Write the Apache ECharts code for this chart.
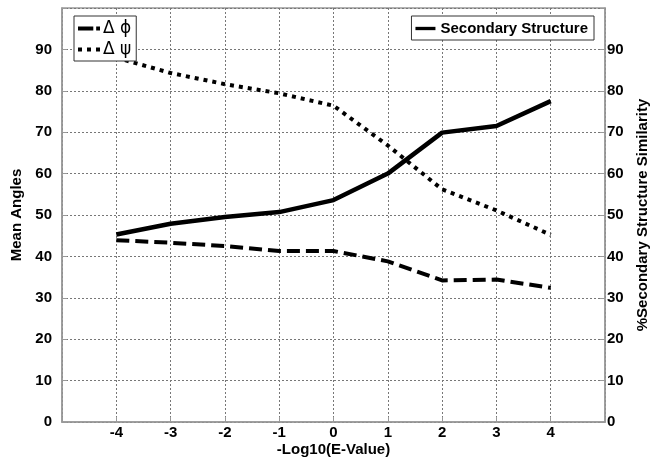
<!DOCTYPE html>
<html>
<head>
<meta charset="utf-8">
<script src="https://cdn.jsdelivr.net/npm/echarts@6/dist/echarts.min.js"></script>
<style>
html,body{margin:0;padding:0;background:#fff;}
#chart{width:661px;height:464px;}
</style>
</head>
<body>
<div id="chart"></div>
<script>
// -log10(E-value) positions
var xVals = [-4, -3, -2, -1, 0, 1, 2, 3, 4];
var dPhi = [43.9, 43.3, 42.5, 41.3, 41.3, 38.8, 34.2, 34.4, 32.4];
var dPsi = [88.0, 84.3, 81.6, 79.4, 76.4, 66.8, 56.2, 51.1, 45.2];
var secStruct = [45.3, 47.9, 49.5, 50.7, 53.6, 60.0, 69.9, 71.5, 77.5];

function pairs(ys){
	var out = [];
	for (var i = 0; i < xVals.length; i++) out.push([xVals[i], ys[i]]);
	return out;
}

var chart = echarts.init(document.getElementById('chart'));
var font = 'Liberation Sans, Arial, sans-serif';
var gridLine = {show: true, lineStyle: {color: '#777', type: [2, 2], width: 1}};
var axisLine = {show: true, onZero: false, lineStyle: {color: '#999', width: 1.5}};
var tick = {show: true, inside: true, length: 5, lineStyle: {color: '#999'}};

option = {
	backgroundColor: '#fff',
	animation: false,
	textStyle: {fontFamily: font, color: '#000'},
	grid: {left: 62, right: 56, top: 8, bottom: 42, outerBoundsMode: 'none', show: true, borderColor: '#999', borderWidth: 1.5},
	legend: [{
		left: 74,
		top: 16,
		orient: 'vertical',
		backgroundColor: '#fff',
		borderColor: '#333',
		borderWidth: 1,
		borderRadius: 0,
		padding: [4, 5, 3, 4],
		itemGap: 4,
		itemWidth: 22,
		itemHeight: 4,
		textStyle: {fontFamily: 'DejaVu Sans, sans-serif', fontSize: 17, color: '#000', padding: [0, 0, 0, -2]},
		data: [
			{name: 'Δ ϕ', icon: 'path://M0,0H16V4H0Z M19,0H23V4H19Z'},
			{name: 'Δ ψ', icon: 'path://M0,0H4V4H0Z M9,0H13V4H9Z M18,0H22V4H18Z'}
		]
	}, {
		right: 67,
		top: 16,
		backgroundColor: '#fff',
		borderColor: '#333',
		borderWidth: 1,
		borderRadius: 0,
		padding: [5, 6, 4, 4],
		itemWidth: 20,
		itemHeight: 4,
		itemGap: 4,
		textStyle: {fontFamily: font, fontSize: 15, fontWeight: 'bold', color: '#000'},
		data: [{name: 'Secondary Structure', icon: 'path://M0,0H24V4H0Z'}]
	}],
	xAxis: {
		type: 'value',
		min: -5,
		max: 5,
		interval: 1,
		name: '-Log10(E-Value)',
		nameLocation: 'middle',
		nameGap: 20,
		nameMoveOverlap: false,
		nameTextStyle: {fontSize: 15, fontWeight: 'bold', color: '#000'},
		axisLine: axisLine,
		axisTick: tick,
		axisLabel: {
			fontSize: 15, fontWeight: 'bold', color: '#000', margin: 3,
			formatter: function (v) { return (v === -5 || v === 5) ? '' : v; }
		},
		splitLine: gridLine
	},
	yAxis: [{
		type: 'value',
		min: 0,
		max: 100,
		interval: 10,
		name: 'Mean Angles',
		nameLocation: 'middle',
		nameGap: 37,
		nameTextStyle: {fontSize: 15, fontWeight: 'bold', color: '#000'},
		axisLine: axisLine,
		axisTick: tick,
		axisLabel: {
			fontSize: 15, fontWeight: 'bold', color: '#000', margin: 10,
			formatter: function (v) { return v === 100 ? '' : v; }
		},
		splitLine: gridLine
	}, {
		type: 'value',
		position: 'right',
		min: 0,
		max: 100,
		interval: 10,
		name: '%Secondary Structure Similarity',
		nameLocation: 'middle',
		nameGap: 30,
		nameRotate: 90,
		nameTextStyle: {fontSize: 15, fontWeight: 'bold', color: '#000'},
		axisLine: axisLine,
		axisTick: tick,
		axisLabel: {
			fontSize: 15, fontWeight: 'bold', color: '#000', margin: 2,
			formatter: function (v) { return v === 100 ? '' : v; }
		},
		splitLine: {show: false}
	}],
	series: [{
		name: 'Δ ϕ',
		type: 'line',
		yAxisIndex: 0,
		symbol: 'none',
		itemStyle: {color: '#000'},
		lineStyle: {color: '#000', width: 4, type: [13, 6]},
		data: pairs(dPhi)
	}, {
		name: 'Δ ψ',
		type: 'line',
		yAxisIndex: 0,
		symbol: 'none',
		itemStyle: {color: '#000'},
		lineStyle: {color: '#000', width: 4, type: [4, 5]},
		data: pairs(dPsi)
	}, {
		name: 'Secondary Structure',
		type: 'line',
		yAxisIndex: 1,
		symbol: 'none',
		itemStyle: {color: '#000'},
		lineStyle: {color: '#000', width: 4.5},
		data: pairs(secStruct)
	}]
};

chart.setOption(option);
</script>
</body>
</html>
